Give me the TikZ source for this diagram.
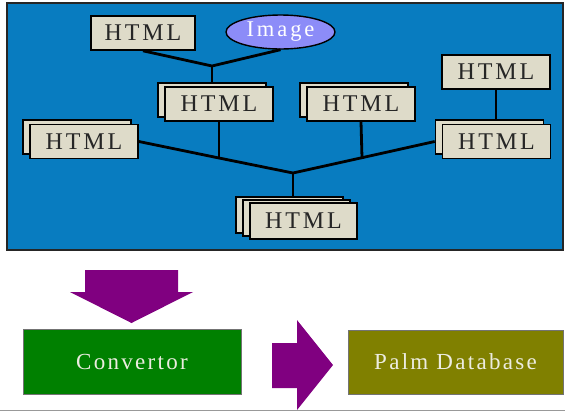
\documentclass[tikz,border=0pt]{standalone}
\usepackage{fontspec}
\setmainfont{Liberation Serif}
\newfontfamily\htmlfont[LetterSpace=12]{Liberation Serif}
\newfontfamily\imgfont[LetterSpace=13]{Liberation Serif}
\newfontfamily\lowfont[LetterSpace=10]{Liberation Serif}
\usetikzlibrary{shapes.geometric}
\definecolor{bluebg}{RGB}{8,124,192}
\definecolor{boxfill}{RGB}{222,219,201}
\definecolor{ellfill}{RGB}{140,140,248}
\definecolor{arrowpurple}{RGB}{128,0,128}
\definecolor{convgreen}{RGB}{0,128,0}
\definecolor{palmolive}{RGB}{128,128,0}
\definecolor{textlight}{RGB}{236,236,224}
\begin{document}
\begin{tikzpicture}[x=1pt,y=-1pt,
  htmlbox/.style={draw=black,line width=1.6pt,fill=boxfill,minimum width=108pt,
    minimum height=34pt,inner sep=0pt,font=\htmlfont\fontsize{24}{24}\selectfont,text=black!85},
  imgnode/.style={ellipse,draw=black,line width=1.4pt,fill=ellfill,minimum width=109pt,
    minimum height=34pt,inner sep=0pt,font=\imgfont\fontsize{22.5}{22.5}\selectfont,text=white},
  link/.style={line width=2.8pt,black},
  bigbox/.style={draw=black!55,line width=0.8pt,inner sep=0pt,text=textlight,
    font=\lowfont\fontsize{23}{23}\selectfont},
  bigarrow/.style={fill=arrowpurple}]
\useasboundingbox (0,0) rectangle (565,413);
% blue frame
\draw[fill=bluebg,draw=black!85,line width=1.5pt] (7,3) rectangle (563,250);
% HTML boxes
\node[htmlbox,minimum width=104pt] (h1) at (143,33) {HTML};
\node[imgnode] (img) at (280.5,32) {Image};
\node[htmlbox] (s1b) at (212,100) {};
\node[htmlbox] (s1) at (219,104) {HTML};
\node[htmlbox] (s2b) at (354,100) {};
\node[htmlbox] (s2) at (361,104) {HTML};
\node[htmlbox] (h3) at (496,72) {HTML};
\node[htmlbox] (L3b) at (77,137) {};
\node[htmlbox] (L3) at (84,141.5) {HTML};
\node[htmlbox] (R3b) at (489.5,137) {};
\node[htmlbox] (R3) at (496.5,141.5) {HTML};
\node[htmlbox,minimum width=107pt,minimum height=36pt] (Bb1) at (289.5,215) {};
\node[htmlbox,minimum width=107pt,minimum height=36pt] (Bb2) at (296.5,218) {};
\node[htmlbox,minimum width=107pt,minimum height=36pt] (B) at (303.5,221) {HTML};
% junctions
\coordinate (j1) at (212,66);
\coordinate (j2) at (293,173);
\coordinate (m1) at (219,158);
\coordinate (m2) at (362,157.7);
% connectors
\draw[link] (h1.south) -- (j1) -- (img.south);
\draw[link] (j1) -- (s1b.north);
\draw[link] (L3.east) -- (m1) -- (j2) -- (m2) -- (R3b.west |- R3.west);
\draw[link] (s1.south) -- (m1);
\draw[link] (s2.south) -- (m2);
\draw[link] (h3.south) -- (h3.south |- R3b.north);
\draw[link] (j2) -- (j2 |- Bb1.north);
% lower part
\fill[bigarrow] (85,270) -- (178,270) -- (178,292) -- (193,292) -- (131.5,323)
  -- (70,292) -- (85,292) -- cycle;
\node[bigbox,fill=convgreen,minimum width=218pt,minimum height=65pt] (conv) at (132,361.5) {Convertor};
\fill[bigarrow] (272,343) -- (297,343) -- (297,320) -- (333,365) -- (297,410)
  -- (297,388) -- (272,388) -- cycle;
\node[bigbox,fill=palmolive,minimum width=215pt,minimum height=64pt] (palm) at (455.5,362) {Palm Database};
\draw[black!40,line width=1.8pt] (0,410.5) -- (565,410.5);
\end{tikzpicture}
\end{document}
